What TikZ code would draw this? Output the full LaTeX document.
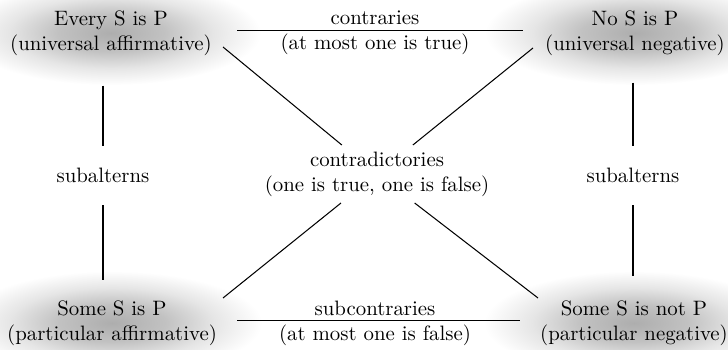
\documentclass[tikz,border=0pt]{standalone}
\usetikzlibrary{backgrounds}
\pgfdeclareradialshading{haze}{\pgfpoint{0bp}{0bp}}{color(0bp)=(black!32); color(9bp)=(black!24); color(17bp)=(black!10); color(25bp)=(white); color(50bp)=(white)}

\begin{document}
\begin{tikzpicture}[
    x=0.48pt, y=-0.48pt,
    prop/.style={align=center, inner sep=3pt},
    rel/.style={align=center, inner sep=3pt},
    blob/.style={shading=haze},
    link/.style={line width=0.5pt, draw=black}
]
\useasboundingbox (0,0) rectangle (728,350);
% the four propositions
\node[prop] (every) at (111,33) {Every S is P\\(universal affirmative)};
\node[prop] (no) at (635,33) {No S is P\\(universal negative)};
\node[prop] (some) at (112,323) {Some S is P\\(particular affirmative)};
\node[prop] (somenot) at (634,323) {Some S is not P\\(particular negative)};
% relations
\node[rel] (contra) at (377,174) {contradictories\\(one is true, one is false)};
\node[rel] (contrary) at (375,33) {contraries\\(at most one is true)};
\node[rel] (subcontrary) at (375,323) {subcontraries\\(at most one is false)};
\node[rel] (subl) at (103,175) {subalterns};
\node[rel] (subr) at (633,175) {subalterns};
% corners of the square
\coordinate (nw) at (223,47);
\coordinate (ne) at (533,48);
\coordinate (sw) at (223,298);
\coordinate (se) at (538,298);
\foreach \c in {nw, ne, sw, se}{\draw[link] (\c) -- (contra);}
\draw[link, shorten <=9.1pt, shorten >=7.7pt] ([yshift=1pt]every.east) -- ([yshift=1pt]no.west);
\draw[link, shorten <=6.7pt, shorten >=6.7pt] ([yshift=1.2pt]some.east) -- ([yshift=1.2pt]somenot.west);
\draw[link, shorten <=11.3pt, shorten >=7.4pt] (subl |- every.south) -- (subl.north);
\draw[link, shorten <=7.9pt, shorten >=6.5pt] (subl.south) -- (subl |- some.north);
\draw[link, shorten <=9.8pt, shorten >=7.4pt] (subr |- no.south) -- (subr.north);
\draw[link, shorten <=7.9pt, shorten >=8.4pt] (subr.south) -- (subr |- somenot.north);
% shaded blobs
\begin{scope}[on background layer]
  \foreach \p in {every, no, some, somenot}{\shade[blob] (\p) ellipse [x radius=72pt, y radius=25pt];}
\end{scope}
\end{tikzpicture}
\end{document}
